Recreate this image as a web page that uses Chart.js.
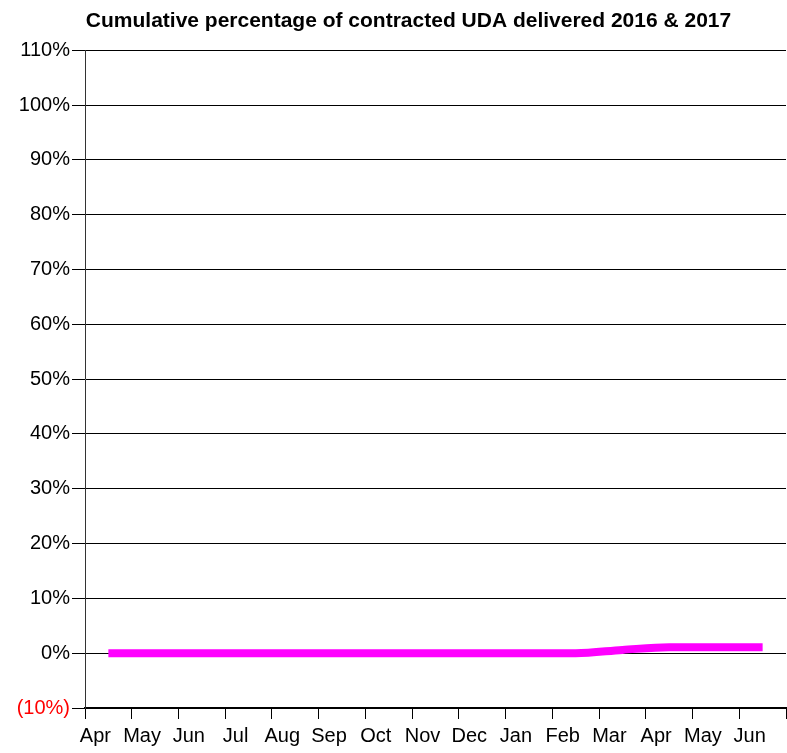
<!DOCTYPE html>
<html>
<head>
<meta charset="utf-8">
<script src="https://cdn.jsdelivr.net/npm/chart.js@4/dist/chart.umd.min.js"></script>
<style>
    body { margin: 0; background: #ffffff; }
</style>
</head>
<body>
<canvas id="udaChart" width="787" height="753"></canvas>
<script>
// === DATI ===
const MONTHS = ["Apr", "May", "Jun", "Jul", "Aug", "Sep", "Oct", "Nov", "Dec", "Jan", "Feb", "Mar", "Apr", "May", "Jun"];
const UDA_CUMULATIVE = [0, 0, 0, 0, 0, 0, 0, 0, 0, 0, 0, 0.6, 1.1, 1.1, 1.1];
const Y_MIN = -10;
const Y_MAX = 110;
const Y_STEP = 10;

const TITLE = "Cumulative percentage of contracted UDA delivered 2016 & 2017";
const FONT = "Liberation Sans, Arial, sans-serif";

// sposta il titolo un po' a destra come nell'originale
const titleShift = {
    id: "titleShift",
    afterLayout(chart) {
        if (chart.titleBlock) chart.titleBlock.left += 31;
    }
};

const ctx = document.getElementById("udaChart").getContext("2d");

new Chart(ctx, {
    type: "line",
    data: {
        labels: MONTHS,
        datasets: [{
            data: UDA_CUMULATIVE,
            borderColor: "#ff00ff",
            borderWidth: 8,
            borderCapStyle: "butt",
            pointRadius: 0,
            cubicInterpolationMode: "monotone",
            fill: false
        }]
    },
    options: {
        responsive: false,
        animation: false,
        layout: { padding: { left: 0, right: 1, top: 0, bottom: 0 } },
        plugins: {
            legend: { display: false },
            tooltip: { enabled: false },
            title: {
                display: true,
                text: TITLE,
                color: "#000000",
                font: { family: FONT, size: 21, weight: "bold" },
                padding: { top: 9, bottom: 16 }
            }
        },
        scales: {
            x: {
                offset: true,
                grid: {
                    offset: true,
                    drawOnChartArea: false,
                    drawTicks: true,
                    tickLength: 11,
                    color: "#000000"
                },
                border: { color: "#000000", width: 2 },
                ticks: {
                    color: "#000000",
                    autoSkip: false,
                    maxRotation: 0,
                    labelOffset: -13,
                    padding: 7,
                    font: { family: FONT, size: 20, lineHeight: 1.0 }
                }
            },
            y: {
                min: Y_MIN,
                max: Y_MAX,
                afterFit: (scale) => { scale.width = 85; },
                grid: {
                    color: "#000000",
                    tickLength: 13,
                    lineWidth: 1
                },
                border: { color: "#333333", width: 1 },
                ticks: {
                    stepSize: Y_STEP,
                    padding: 2,
                    color: (c) => c.tick && c.tick.value < 0 ? "#ff0000" : "#000000",
                    font: { family: FONT, size: 20 },
                    callback: (v) => v < 0 ? "(" + Math.abs(v) + "%)" : v + "%"
                }
            }
        }
    },
    plugins: [titleShift]
});
</script>
</body>
</html>
